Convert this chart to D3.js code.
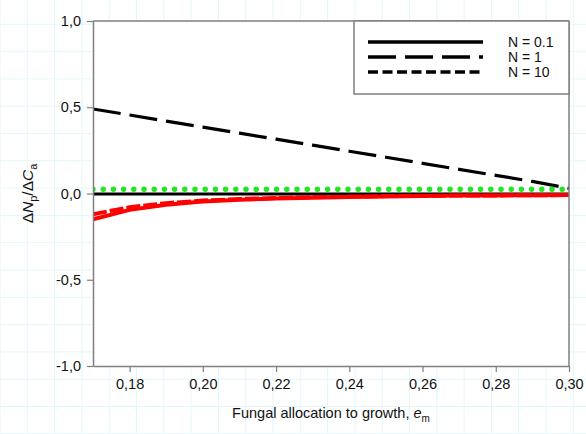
<!DOCTYPE html>
<html>
  <head>
    <script src="https://d3js.org/d3.v7.min.js"></script>
    <style>
      body { margin: 0; background-color: white; }
      text { font-family: 'Liberation Sans', Arial, sans-serif; }
    </style>
  </head>
  <body>
    <svg id="canvas" width="586" height="434"></svg>
    <script>
      // data
      const eValues = [0.17, 0.18, 0.19, 0.20, 0.21, 0.22, 0.23, 0.24, 0.25, 0.26, 0.27, 0.28, 0.29, 0.30]
      const blackSolid = [-0.003, -0.003, -0.003, -0.003, -0.003, -0.003, -0.003, -0.003, -0.003, -0.003, -0.003, -0.003, -0.003, -0.003]
      const blackLongDash = [0.49, 0.455, 0.42, 0.385, 0.35, 0.315, 0.28, 0.245, 0.21, 0.175, 0.14, 0.105, 0.07, 0.03]
      const greenDots = [0.024, 0.024, 0.024, 0.024, 0.024, 0.024, 0.024, 0.024, 0.024, 0.024, 0.024, 0.024, 0.024, 0.024]
      const redSolid = [-0.15, -0.095, -0.065, -0.047, -0.036, -0.029, -0.024, -0.020, -0.017, -0.014, -0.012, -0.011, -0.010, -0.009]
      const redDash = [-0.12, -0.08, -0.056, -0.041, -0.032, -0.026, -0.021, -0.018, -0.015, -0.013, -0.012, -0.011, -0.010, -0.009]
      const xTicks = [0.18, 0.20, 0.22, 0.24, 0.26, 0.28, 0.30]
      const yTicks = [-1.0, -0.5, 0.0, 0.5, 1.0]
      const legendLabels = ['N = 0.1', 'N = 1', 'N = 10']

      const svg = d3.select('#canvas')
      const W = 586, H = 434
      const margin = { top: 21, right: 17, bottom: 68, left: 93 }
      const width = W - margin.left - margin.right
      const height = H - margin.top - margin.bottom
      const axisColor = '#7f7f7f'
      const fmt = v => d3.format('.2f')(v).replace('.', ',')
      const fmtY = v => d3.format('.1f')(v).replace('.', ',').replace('\u2212', '-')

      // faint graph paper in the background
      const gridStep = 27.3
      const bg = svg.append('g')
      for (let gx = 0; gx < W; gx += gridStep) {
        bg.append('line').attr('x1', gx).attr('x2', gx).attr('y1', 0).attr('y2', H)
          .attr('stroke', '#e3f7fa').attr('stroke-width', 1)
      }
      for (let gy = -3; gy < H; gy += gridStep) {
        bg.append('line').attr('x1', 0).attr('x2', W).attr('y1', gy).attr('y2', gy)
          .attr('stroke', '#e3f7fa').attr('stroke-width', 1)
      }

      const g = svg.append('g').attr('transform', `translate(${margin.left}, ${margin.top})`)

      const x = d3.scaleLinear().domain([0.17, 0.30]).range([0, width])
      const y = d3.scaleLinear().domain([-1, 1]).range([height, 0])

      g.append('rect')
        .attr('width', width).attr('height', height)
        .attr('fill', 'white')

      const clip = g.append('clipPath').attr('id', 'plotClip')
      clip.append('rect').attr('width', width).attr('height', height)

      const line = d3.line().x((d, i) => x(eValues[i])).y(d => y(d))
      const series = [
        { values: blackLongDash, color: 'black', width: 3.2, dash: '28 9', cap: 'butt' },
        { values: blackSolid, color: 'black', width: 3, dash: null, cap: 'butt' },
        { values: redSolid, color: '#ff0000', width: 4, dash: null, cap: 'butt' },
        { values: redDash, color: '#ff0000', width: 4, dash: '14 3', cap: 'butt' },
        { values: greenDots, color: '#22e622', width: 5.5, dash: '0 10.2', cap: 'round' }
      ]

      const lines = g.append('g').attr('clip-path', 'url(#plotClip)')
      series.forEach(s => {
        lines.append('path')
          .datum(s.values)
          .attr('d', line)
          .attr('fill', 'none')
          .attr('stroke', s.color)
          .attr('stroke-width', s.width)
          .attr('stroke-dasharray', s.dash)
          .attr('stroke-linecap', s.cap)
      })

      // axes
      const xAxis = g.append('g').attr('transform', `translate(0, ${height})`)
        .call(d3.axisBottom(x).tickValues(xTicks).tickFormat(fmt).tickSizeInner(6).tickSizeOuter(0).tickPadding(7))
      const yAxis = g.append('g')
        .call(d3.axisLeft(y).tickValues(yTicks).tickFormat(fmtY).tickSizeInner(6).tickSizeOuter(0).tickPadding(6))
      ;[xAxis, yAxis].forEach(a => {
        a.select('.domain').attr('stroke', axisColor).attr('stroke-width', 1.5)
        a.selectAll('.tick line').attr('stroke', axisColor).attr('stroke-width', 1.2)
        a.selectAll('.tick text').attr('fill', '#111').attr('font-size', 14.5)
          .attr('font-family', "'Liberation Sans', Arial, sans-serif")
      })
      // top and right frame
      g.append('line').attr('x1', 0).attr('x2', width).attr('y1', 0).attr('y2', 0)
        .attr('stroke', axisColor).attr('stroke-width', 1.5)
      g.append('line').attr('x1', width).attr('x2', width).attr('y1', 0).attr('y2', height)
        .attr('stroke', axisColor).attr('stroke-width', 1.5)

      // legend
      const lg = g.append('g').attr('transform', `translate(${width - 215}, 0)`)
      lg.append('rect').attr('width', 215).attr('height', 73)
        .attr('fill', 'white').attr('stroke', axisColor).attr('stroke-width', 1.5)
      const legendDash = [null, '28 9', '10 4.5']
      legendLabels.forEach((lab, i) => {
        const ly = 21 + i * 15
        lg.append('line').attr('x1', 14).attr('x2', 129).attr('y1', ly).attr('y2', ly)
          .attr('stroke', 'black').attr('stroke-width', 3.5)
          .attr('stroke-dasharray', legendDash[i])
        lg.append('text').attr('x', 154).attr('y', ly).attr('dy', '0.35em')
          .attr('font-size', 14).attr('fill', '#111').text(lab)
      })

      // axis titles
      const xt = svg.append('text')
        .attr('x', margin.left + width / 2).attr('y', 418)
        .attr('text-anchor', 'middle').attr('font-size', 14.5).attr('fill', '#111')
      xt.append('tspan').text('Fungal allocation to growth, ')
      xt.append('tspan').attr('font-style', 'italic').text('e')
      xt.append('tspan').attr('font-size', 10).attr('dy', 4).text('m')

      const yt = svg.append('text')
        .attr('transform', `translate(33, ${margin.top + height / 2}) rotate(-90)`)
        .attr('text-anchor', 'middle').attr('font-size', 15.5).attr('fill', '#111')
      yt.append('tspan').text('Δ')
      yt.append('tspan').attr('font-style', 'italic').text('N')
      yt.append('tspan').attr('font-size', 11).attr('dy', 4).text('p')
      yt.append('tspan').attr('dy', -4).text('/Δ')
      yt.append('tspan').attr('font-style', 'italic').text('C')
      yt.append('tspan').attr('font-size', 11).attr('dy', 4).text('a')
    </script>
  </body>
</html>
